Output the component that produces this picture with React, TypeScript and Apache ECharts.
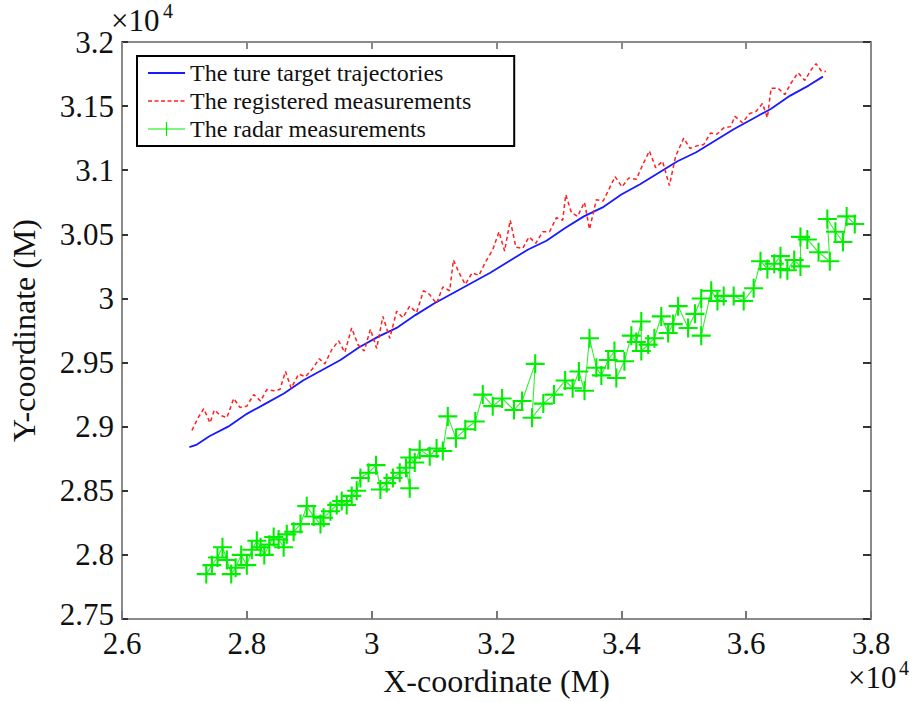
import React, { useEffect, useRef } from "react";
import * as echarts from "echarts";

// values in units of 1e4 m (as displayed on the axes)
const blueX = [2.708, 2.72, 2.74, 2.77, 2.8, 2.83, 2.86, 2.89, 2.92, 2.95, 2.98, 3.01, 3.04, 3.07, 3.1, 3.13, 3.16, 3.19, 3.22, 3.25, 3.28, 3.31, 3.34, 3.37, 3.4, 3.43, 3.46, 3.49, 3.52, 3.55, 3.58, 3.61, 3.64, 3.67, 3.7, 3.723];
const blueY = [2.884, 2.886, 2.8925, 2.9, 2.91, 2.918, 2.926, 2.936, 2.944, 2.952, 2.962, 2.97, 2.977, 2.987, 2.996, 3.004, 3.012, 3.02, 3.029, 3.038, 3.045, 3.055, 3.064, 3.071, 3.081, 3.089, 3.098, 3.107, 3.114, 3.123, 3.132, 3.14, 3.148, 3.158, 3.166, 3.173];

const redX = [2.712, 2.722, 2.731, 2.741, 2.748, 2.757, 2.768, 2.779, 2.789, 2.8, 2.811, 2.822, 2.832, 2.843, 2.853, 2.862, 2.871, 2.883, 2.894, 2.905, 2.916, 2.925, 2.936, 2.947, 2.957, 2.968, 2.978, 2.988, 2.998, 3.008, 3.018, 3.029, 3.04, 3.05, 3.061, 3.072, 3.083, 3.093, 3.104, 3.114, 3.125, 3.131, 3.14, 3.15, 3.161, 3.172, 3.182, 3.194, 3.204, 3.213, 3.222, 3.231, 3.242, 3.252, 3.263, 3.274, 3.285, 3.296, 3.306, 3.311, 3.32, 3.33, 3.341, 3.349, 3.36, 3.371, 3.382, 3.39, 3.401, 3.412, 3.424, 3.434, 3.445, 3.455, 3.466, 3.477, 3.487, 3.5, 3.51, 3.521, 3.532, 3.543, 3.553, 3.564, 3.575, 3.582, 3.594, 3.605, 3.616, 3.626, 3.634, 3.64, 3.651, 3.662, 3.672, 3.683, 3.694, 3.705, 3.712, 3.721, 3.728];
const redY = [2.897, 2.907, 2.914, 2.903, 2.913, 2.909, 2.907, 2.922, 2.915, 2.916, 2.925, 2.92, 2.929, 2.928, 2.929, 2.943, 2.93, 2.941, 2.939, 2.945, 2.953, 2.949, 2.96, 2.967, 2.958, 2.977, 2.964, 2.959, 2.976, 2.961, 2.986, 2.969, 2.99, 2.985, 2.994, 2.989, 3.006, 3.003, 2.996, 3.009, 3.006, 3.03, 3.02, 3.011, 3.02, 3.018, 3.028, 3.038, 3.052, 3.037, 3.061, 3.04, 3.039, 3.048, 3.043, 3.052, 3.052, 3.063, 3.061, 3.081, 3.067, 3.064, 3.075, 3.054, 3.077, 3.076, 3.087, 3.095, 3.087, 3.094, 3.093, 3.104, 3.115, 3.102, 3.107, 3.088, 3.111, 3.125, 3.117, 3.119, 3.12, 3.129, 3.128, 3.133, 3.134, 3.142, 3.137, 3.144, 3.146, 3.152, 3.141, 3.164, 3.164, 3.159, 3.168, 3.176, 3.17, 3.179, 3.183, 3.177, 3.177];

const greenX = [2.735, 2.744, 2.753, 2.761, 2.768, 2.775, 2.782, 2.791, 2.8, 2.808, 2.816, 2.822, 2.828, 2.836, 2.843, 2.851, 2.859, 2.864, 2.875, 2.886, 2.896, 2.907, 2.918, 2.923, 2.934, 2.944, 2.952, 2.96, 2.968, 2.976, 2.982, 2.995, 3.007, 3.014, 3.024, 3.034, 3.045, 3.055, 3.061, 3.061, 3.069, 3.077, 3.093, 3.104, 3.114, 3.122, 3.135, 3.15, 3.166, 3.178, 3.194, 3.209, 3.228, 3.241, 3.262, 3.257, 3.275, 3.292, 3.31, 3.322, 3.332, 3.341, 3.349, 3.36, 3.368, 3.379, 3.389, 3.392, 3.405, 3.416, 3.424, 3.432, 3.432, 3.443, 3.453, 3.464, 3.475, 3.483, 3.491, 3.507, 3.518, 3.528, 3.528, 3.544, 3.554, 3.564, 3.58, 3.596, 3.612, 3.623, 3.634, 3.645, 3.655, 3.655, 3.666, 3.677, 3.687, 3.687, 3.698, 3.716, 3.734, 3.73, 3.743, 3.755, 3.761, 3.774];
const greenY = [2.785, 2.792, 2.798, 2.806, 2.796, 2.785, 2.79, 2.8, 2.792, 2.804, 2.811, 2.806, 2.8, 2.808, 2.814, 2.812, 2.806, 2.816, 2.818, 2.824, 2.838, 2.83, 2.824, 2.829, 2.834, 2.839, 2.842, 2.839, 2.846, 2.85, 2.86, 2.864, 2.87, 2.851, 2.856, 2.86, 2.864, 2.868, 2.852, 2.876, 2.872, 2.882, 2.877, 2.883, 2.881, 2.908, 2.891, 2.898, 2.904, 2.925, 2.916, 2.922, 2.913, 2.92, 2.949, 2.907, 2.918, 2.925, 2.936, 2.93, 2.943, 2.928, 2.969, 2.946, 2.94, 2.952, 2.959, 2.938, 2.951, 2.971, 2.966, 2.982, 2.959, 2.964, 2.969, 2.986, 2.973, 2.98, 2.994, 2.977, 2.988, 3.0, 2.971, 3.006, 2.998, 3.002, 3.002, 2.998, 3.008, 3.029, 3.023, 3.027, 3.033, 3.023, 3.022, 3.03, 3.025, 3.048, 3.046, 3.036, 3.029, 3.062, 3.052, 3.044, 3.064, 3.058];

const seriesNames = [
  "The ture target trajectories",
  "The registered measurements",
  "The radar measurements",
];
const xAxisTitle = "X-coordinate (M)";
const yAxisTitle = "Y-coordinate (M)";
const SCALE = 10000;
const Y_MIN = 27500;

const FONT = "Liberation Serif";
const PLUS = "path://M4.45,0H5.55V4.45H10V5.55H5.55V10H4.45V5.55H0V4.45H4.45Z";
const ICON_SOLID = "path://M0,6.1H37V7.9H0Z";
const ICON_DASH =
  "path://M0,6.3H4V7.7H0Z M6.5,6.3H10.5V7.7H6.5Z M13,6.3H17V7.7H13Z M19.5,6.3H23.5V7.7H19.5Z M26,6.3H30V7.7H26Z M32.5,6.3H36.5V7.7H32.5Z M36.9,0H37V0.1H36.9Z M0,13.9H0.1V14H0Z";
const ICON_PLUS = "path://M0,6.4H37V7.6H0Z M17.9,0H19.1V14H17.9Z";

const toPairs = (xs: number[], ys: number[]) => xs.map((x, i) => [x * SCALE, ys[i] * SCALE]);
const fmt = (v: number) => String(Math.round(v) / SCALE);
const fmtY = (v: number) => (Math.round(v) === Y_MIN ? `{lo|${fmt(v)}}` : fmt(v));

export default function App() {
  const ref = useRef<HTMLDivElement>(null);
  useEffect(() => {
    if (!ref.current) return;
    const chart = echarts.init(ref.current, null, { renderer: "svg" });
    const frame = { show: true, lineStyle: { color: "#8a8a8a", width: 2 } };
    const xBase = { type: "value", min: 26000, max: 38000, interval: 2000, splitLine: { show: false } };
    const yBase = { type: "value", min: Y_MIN, max: 32000, interval: 500, splitLine: { show: false } };
    const tickLabel = {
      fontFamily: FONT,
      fontSize: 31,
      color: "#111",
      hideOverlap: false,
      showMinLabel: true,
      showMaxLabel: true,
    };
    chart.setOption({
      animation: false,
      backgroundColor: "#fff",
      textStyle: { fontFamily: FONT, color: "#111" },
      grid: { left: 117, right: 41, top: 42, bottom: 80, containLabel: false },
      xAxis: [
        {
          ...xBase,
          position: "bottom",
          axisLine: frame,
          axisTick: { inside: true, length: 8, lineStyle: { color: "#777", width: 2 } },
          axisLabel: { ...tickLabel, formatter: fmt, margin: 11, lineHeight: 26 },
          name: xAxisTitle,
          nameLocation: "middle",
          nameGap: 46,
          nameTextStyle: { fontFamily: FONT, fontSize: 32, color: "#111" },
        },
        {
          ...xBase,
          position: "top",
          axisLine: frame,
          axisTick: { inside: true, length: 7, lineStyle: { color: "#888", width: 2 } },
          axisLabel: { show: false },
        },
      ],
      yAxis: [
        {
          ...yBase,
          position: "left",
          axisLine: frame,
          axisTick: { inside: true, length: 6, lineStyle: { color: "#333", width: 2 } },
          axisLabel: {
            ...tickLabel,
            formatter: fmtY,
            margin: 8,
            lineHeight: 20,
            rich: {
              lo: { fontFamily: FONT, fontSize: 31, color: "#111", lineHeight: 20, padding: [0, 0, 10, 0] },
            },
          },
          name: yAxisTitle,
          nameLocation: "middle",
          nameGap: 82,
          nameTextStyle: { fontFamily: FONT, fontSize: 32, color: "#111" },
        },
        {
          ...yBase,
          position: "right",
          axisLine: frame,
          axisTick: { inside: true, length: 8, lineStyle: { color: "#333", width: 2 } },
          axisLabel: { show: false },
        },
      ],
      legend: {
        left: 137,
        top: 56,
        orient: "vertical",
        data: [
          { name: seriesNames[0], icon: ICON_SOLID },
          { name: seriesNames[1], icon: ICON_DASH },
          { name: seriesNames[2], icon: ICON_PLUS },
        ],
        itemWidth: 37,
        itemHeight: 14,
        itemGap: 4,
        padding: [5, 43, 5, 11],
        borderColor: "#000",
        borderWidth: 2,
        backgroundColor: "#fff",
        textStyle: { fontFamily: FONT, fontSize: 24, color: "#111" },
      },
      series: [
        {
          name: seriesNames[0],
          type: "line",
          data: toPairs(blueX, blueY),
          symbol: "none",
          lineStyle: { color: "#1a1aff", width: 1.8 },
          itemStyle: { color: "#1a1aff" },
          z: 3,
        },
        {
          name: seriesNames[1],
          type: "line",
          data: toPairs(redX, redY),
          symbol: "none",
          lineStyle: { color: "#ff1f1f", width: 1.5, type: [4, 3] },
          itemStyle: { color: "#ff1f1f" },
          z: 4,
        },
        {
          name: seriesNames[2],
          type: "line",
          data: toPairs(greenX, greenY),
          symbol: PLUS,
          symbolSize: 19,
          showAllSymbol: true,
          lineStyle: { color: "#33ee33", width: 1.1 },
          itemStyle: { color: "#00ee00" },
          z: 5,
        },
      ],
      graphic: [
        { type: "text", left: 111, top: 5, style: { text: "×10", fontFamily: FONT, fontSize: 31, fill: "#111" } },
        { type: "text", left: 163, top: 1, style: { text: "4", fontFamily: FONT, fontSize: 20, fill: "#111" } },
        { type: "text", left: 848, top: 662, style: { text: "×10", fontFamily: FONT, fontSize: 31, fill: "#111" } },
        { type: "text", left: 899, top: 658, style: { text: "4", fontFamily: FONT, fontSize: 20, fill: "#111" } },
      ],
    });
    return () => chart.dispose();
  }, []);
  return (
    <div
      ref={ref}
      style={{ position: "fixed", left: 0, top: 0, width: 912, height: 702, background: "#fff" }}
    />
  );
}
